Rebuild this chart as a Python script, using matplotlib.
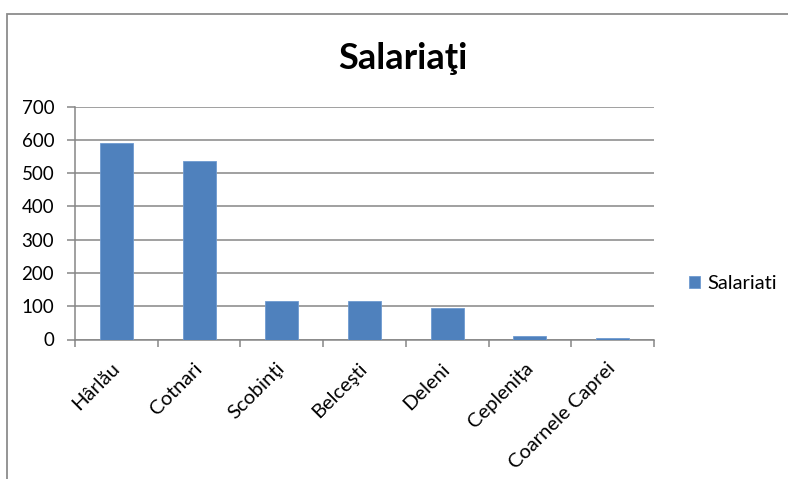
import numpy as np
import matplotlib.pyplot as plt
import matplotlib.transforms as mtransforms
from matplotlib.patches import Rectangle

# Data
localitati = ['Hârlău', 'Cotnari', 'Scobinţi', 'Belceşti', 'Deleni', 'Ceplenița', 'Coarnele Caprei']
salariati = [590, 538, 115, 115, 96, 10, 5]
yticks = [0, 100, 200, 300, 400, 500, 600, 700]

plt.rcParams['font.family'] = ['Lato', 'DejaVu Sans']

fig = plt.figure(figsize=(7.88, 4.79), dpi=100)
fig.patch.set_facecolor('white')

# chart border (only top and left are visible)
fig.patches.append(Rectangle((7/788, -0.05), 1.0, 1 - 14/479 + 0.05,
                             transform=fig.transFigure, fill=False,
                             edgecolor='#8c8c8c', linewidth=1.3))

ax = fig.add_axes([75/788, (479-339.5)/479, (654-75)/788, (339.5-106.7)/479])

x = np.arange(len(localitati))
ax.bar(x, salariati, width=0.4, color='#4F81BD', edgecolor='#6f9bd1',
       linewidth=0.6, label='Salariati', zorder=3)

ax.set_xlim(-0.5, len(localitati) - 0.5)
ax.set_ylim(0, 700)
ax.set_yticks(yticks)
ax.set_yticklabels([str(v) for v in yticks], fontsize=13.5)
ax.yaxis.grid(True, color='#868686', linewidth=1.1, zorder=0)

ax.set_xticks(x)
ax.set_xticklabels(localitati, rotation=45, ha='right', va='center',
                   rotation_mode='anchor', fontsize=14.5)
shift = mtransforms.ScaledTranslation(5/100, 0, fig.dpi_scale_trans)
for lbl in ax.get_xticklabels():
    lbl.set_transform(lbl.get_transform() + shift)
ax.set_xticks(np.arange(len(localitati) + 1) - 0.5, minor=True)
ax.tick_params(axis='x', which='major', length=0, pad=19)
ax.tick_params(axis='x', which='minor', length=5, color='#868686', width=1.1)
ax.tick_params(axis='y', length=6, color='#868686', width=1.1, pad=9)

for side in ['top', 'right']:
    ax.spines[side].set_visible(False)
for side in ['left', 'bottom']:
    ax.spines[side].set_color('#868686')
    ax.spines[side].set_linewidth(1.1)

fig.text(403/788, 1 - 69.3/479, 'Salariaţi', fontsize=26, fontweight='bold',
         ha='center', va='baseline')

ax.legend(loc='center left', bbox_to_anchor=(1.06, 0.24), frameon=False,
          fontsize=14.5, handlelength=0.55, handleheight=0.55, handletextpad=0.35,
          borderpad=0, borderaxespad=0)

fig.savefig('out.png', dpi=100)
